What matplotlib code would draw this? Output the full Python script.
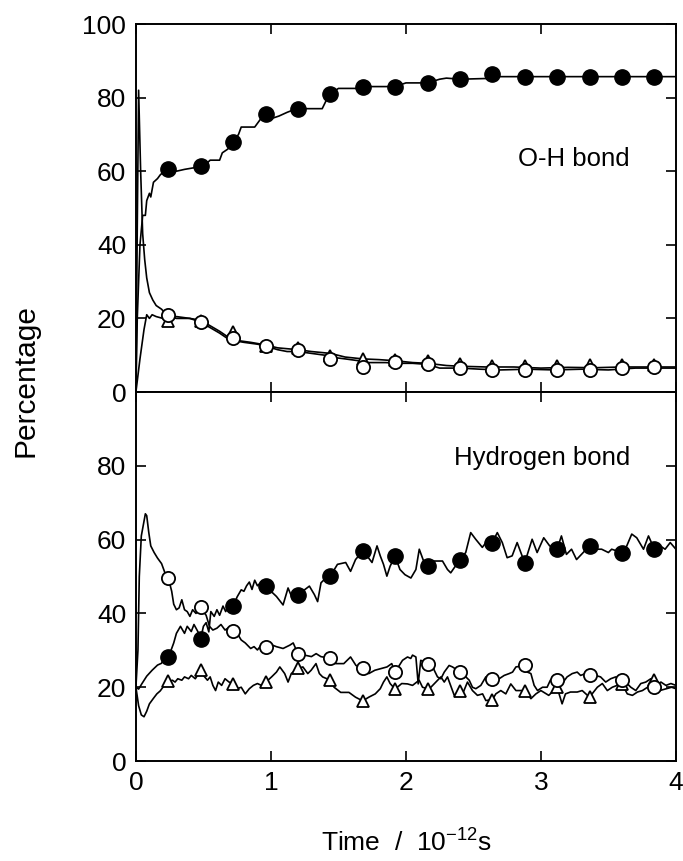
import matplotlib
matplotlib.use('Agg')
import matplotlib.pyplot as plt

plt.rcParams['font.family'] = ['Liberation Sans', 'DejaVu Sans']

# marker times (ps)
t_mark = [0.24, 0.48, 0.72, 0.96, 1.20, 1.44, 1.68, 1.92, 2.16, 2.40, 2.64, 2.88, 3.12, 3.36, 3.60, 3.84]

# ---- O-H bond panel: markers
oh_filled = [60.5, 61.5, 68, 75.5, 77, 81, 83, 83, 84, 85, 86.4, 85.7, 85.7, 85.7, 85.7, 85.7]
oh_open = [20.9, 18.9, 14.6, 12.6, 11.3, 9.0, 6.8, 8.1, 7.7, 6.5, 6.1, 6.1, 6.1, 5.9, 6.5, 6.8]
oh_tri = [19.4, 19.4, 16.2, 12.6, 11.9, 9.7, 9.0, 8.8, 8.3, 7.7, 7.2, 7.2, 7.2, 7.4, 7.4, 7.4]

# ---- O-H bond panel: traces
oh_filled_line_t = [0, 0.01, 0.03, 0.05, 0.07, 0.08, 0.10, 0.11, 0.13, 0.16, 0.18, 0.21, 0.24, 0.27, 0.30,
                    0.36, 0.44, 0.48, 0.52, 0.55, 0.62, 0.64, 0.68, 0.72, 0.76, 0.78, 0.88, 0.92, 0.96,
                    1.02, 1.06, 1.12, 1.19, 1.38, 1.42, 1.44, 1.50, 1.65, 1.68, 1.92, 2.00, 2.16, 2.25,
                    2.30, 2.40, 2.60, 2.62, 2.70, 4.0]
oh_filled_line_v = [0, 20, 40, 48, 48, 52, 54, 53, 57, 58, 59, 60, 60.5, 61, 60, 60.5, 61, 61.5, 62, 63,
                    63, 65, 66, 68, 70, 72, 72, 74, 75.5, 74.5, 75, 76, 77, 77, 80, 81, 82.5, 82.5, 83,
                    83, 84, 84, 85, 85.3, 85, 85.2, 86, 85.7, 85.7]

oh_open_line_t = [0, 0.01, 0.02, 0.035, 0.05, 0.065, 0.08, 0.10, 0.125, 0.15, 0.19, 0.24, 0.30, 0.40,
                  0.48, 0.55, 0.62, 0.68, 0.72, 0.80, 0.90, 0.96, 1.05, 1.12, 1.20, 1.30, 1.40, 1.44,
                  1.55, 1.65, 1.72, 1.85, 1.95, 2.05, 2.16, 2.25, 2.40, 2.55, 2.70, 2.90, 3.10, 3.30,
                  3.50, 3.70, 4.0]
oh_open_line_v = [0, 45, 82, 60, 43, 36, 31, 27, 25, 23.5, 22.5, 20.5, 20, 20, 19, 17.5, 16, 14.5, 14,
                  13.5, 13, 12.5, 11.5, 11, 11, 10.5, 10, 9.5, 9, 8.5, 8, 8, 7.8, 7.8, 7.5, 6.5, 6.5,
                  6.2, 6.0, 6.2, 6.0, 6.2, 6.0, 6.5, 6.5]

oh_tri_line_t = [0, 0.03, 0.06, 0.08, 0.10, 0.12, 0.15, 0.20, 0.24, 0.30, 0.40, 0.48, 0.55, 0.62, 0.68,
                 0.75, 0.85, 0.96, 1.05, 1.20, 1.30, 1.44, 1.55, 1.68, 1.80, 1.92, 2.05, 2.16, 2.30,
                 2.40, 2.60, 2.80, 3.0, 3.2, 3.4, 3.6, 4.0]
oh_tri_line_v = [0, 9, 17, 21, 20, 21, 20.5, 20, 19.8, 20.5, 20, 19.5, 18, 16.5, 15, 14, 13.5, 12.8, 12,
                 11.5, 11, 10.5, 9.5, 9.0, 8.8, 8.5, 8.0, 7.8, 7.2, 7.0, 6.8, 6.8, 6.5, 6.7, 6.6, 6.8,
                 6.8]

# ---- Hydrogen bond panel: markers
hb_filled = [28.2, 33.2, 41.9, 47.4, 45.1, 50.1, 56.9, 55.5, 52.8, 54.6, 59.2, 53.7, 57.4, 58.3, 56.5, 57.4]
hb_open = [49.6, 41.8, 35.3, 31.0, 29.1, 27.8, 25.1, 24.1, 26.4, 24.2, 22.3, 25.9, 21.9, 23.2, 21.9, 20.0]
hb_tri = [21.8, 24.6, 21.0, 21.3, 25.1, 21.9, 16.3, 19.5, 19.6, 19.1, 16.6, 19.1, 20.0, 17.3, 21.0, 21.9]

# ---- Hydrogen bond panel: traces
hb_filled_line_t = [0, 0.02, 0.045, 0.08, 0.12, 0.16, 0.19, 0.21, 0.24, 0.26, 0.28, 0.30, 0.33, 0.36,
                    0.38, 0.41, 0.43, 0.46, 0.48, 0.50, 0.52, 0.54, 0.555, 0.58, 0.60, 0.62, 0.645,
                    0.665, 0.69, 0.72, 0.75, 0.78, 0.80, 0.82, 0.84, 0.86, 0.88, 0.90, 0.93, 0.96,
                    1.041, 1.09, 1.127, 1.163, 1.20, 1.249, 1.285, 1.322, 1.346, 1.371, 1.407, 1.44,
                    1.493, 1.554, 1.59, 1.627, 1.68, 1.712, 1.749, 1.786, 1.81, 1.834, 1.859, 1.883,
                    1.92, 1.956, 1.993, 2.037, 2.074, 2.099, 2.135, 2.16, 2.209, 2.271, 2.308, 2.332,
                    2.40, 2.443, 2.48, 2.517, 2.566, 2.603, 2.64, 2.677, 2.714, 2.75, 2.787, 2.824,
                    2.88, 2.935, 2.972, 3.021, 3.065, 3.12, 3.152, 3.189, 3.227, 3.264, 3.36, 3.40,
                    3.45, 3.50, 3.524, 3.60, 3.636, 3.673, 3.71, 3.76, 3.797, 3.84, 3.884, 3.92,
                    3.958, 4.0]
hb_filled_line_v = [20, 19.5, 21, 23, 24.6, 26, 26.5, 28, 28.2, 30, 32, 34.6, 36.5, 34.6, 36.5, 35.1,
                    37, 35, 33.2, 36.5, 37.5, 35.0, 40.5, 39.2, 41.0, 39.5, 42.0, 40.5, 42.5, 41.9,
                    44.5, 46.4, 46.0, 47.5, 48.5, 46.5, 49.0, 47.5, 48.5, 47.4, 44.6, 42.3, 46.9, 43.7,
                    45.1, 46.4, 47.4, 45.1, 43.2, 48.3, 49.6, 50.1, 53.3, 53.8, 51.4, 54.6, 56.9, 55.6,
                    53.8, 58.3, 55.6, 53.3, 50.1, 52.8, 55.5, 51.9, 50.5, 49.6, 51.9, 57.4, 53.8, 52.8,
                    54.2, 54.2, 51.9, 51.0, 54.6, 56.5, 61.9, 60.1, 57.9, 59.7, 59.2, 61.9, 59.2, 55.1,
                    55.6, 59.2, 53.7, 60.1, 56.5, 60.5, 58.3, 57.4, 61.0, 56.0, 57.4, 54.6, 58.3, 57.4,
                    57.4, 56.5, 57.4, 56.5, 58.3, 61.5, 60.5, 57.4, 61.0, 57.4, 58.3, 57.4, 59.2, 57.4]

hb_open_line_t = [0, 0.015, 0.025, 0.04, 0.055, 0.07, 0.08, 0.095, 0.11, 0.135, 0.16, 0.19, 0.215,
                  0.24, 0.265, 0.28, 0.30, 0.32, 0.34, 0.36, 0.38, 0.40, 0.42, 0.445, 0.48, 0.50, 0.52,
                  0.545, 0.57, 0.60, 0.63, 0.66, 0.69, 0.72, 0.75, 0.78, 0.81, 0.85, 0.875, 0.90,
                  0.93, 0.96, 1.005, 1.04, 1.09, 1.14, 1.165, 1.20, 1.25, 1.30, 1.335, 1.37, 1.44,
                  1.48, 1.54, 1.59, 1.63, 1.68, 1.725, 1.77, 1.82, 1.86, 1.895, 1.92, 1.975, 2.012,
                  2.036, 2.049, 2.074, 2.091, 2.11, 2.16, 2.185, 2.21, 2.234, 2.259, 2.284, 2.32,
                  2.345, 2.40, 2.42, 2.444, 2.469, 2.493, 2.518, 2.555, 2.592, 2.64, 2.666, 2.691,
                  2.728, 2.765, 2.79, 2.815, 2.88, 2.90, 2.926, 2.95, 2.975, 3.012, 3.046, 3.07,
                  3.12, 3.157, 3.194, 3.232, 3.269, 3.294, 3.331, 3.36, 3.405, 3.442, 3.48, 3.517,
                  3.554, 3.60, 3.628, 3.666, 3.703, 3.74, 3.777, 3.814, 3.84, 3.889, 3.926, 3.963,
                  4.0]
hb_open_line_v = [20, 30, 50, 61, 64, 67, 66.5, 62, 58.3, 56.5, 55, 53.5, 51, 49.6, 46, 42.5, 41,
                  41.5, 43.7, 41.0, 40.5, 39.2, 41.0, 40, 41.8, 40.5, 39.5, 36.5, 35.5, 36.0, 37.0,
                  35.5, 36.2, 35.3, 34.6, 32.8, 32.0, 30.5, 31.0, 30.1, 31.5, 31.0, 31.5, 31.0, 30.5,
                  31.4, 32.0, 29.1, 28.7, 28.3, 29.1, 28.3, 27.8, 26.4, 26.4, 28.2, 25.9, 25.1, 23.7,
                  24.6, 25.1, 25.5, 26.4, 24.1, 27.3, 28.2, 27.8, 28.7, 28.2, 20.9, 27.3, 26.4, 26.9,
                  24.6, 22.8, 22.3, 24.1, 25.9, 25.5, 24.2, 23.7, 22.8, 21.9, 20.0, 19.6, 20.5, 22.8,
                  22.3, 22.8, 22.3, 23.2, 23.7, 24.1, 25.5, 25.9, 24.1, 23.7, 20.5, 19.1, 20.0, 20.0,
                  21.9, 21.9, 21.0, 22.8, 23.7, 24.1, 23.2, 23.7, 23.2, 23.2, 22.8, 21.4, 22.3, 22.8,
                  21.9, 21.4, 20.0, 19.1, 21.0, 21.4, 22.3, 20.0, 21.4, 20.5, 21.0, 20.5]

hb_tri_line_t = [0, 0.02, 0.04, 0.06, 0.08, 0.10, 0.13, 0.155, 0.18, 0.20, 0.215, 0.24, 0.27, 0.29,
                 0.31, 0.34, 0.36, 0.39, 0.41, 0.44, 0.48, 0.50, 0.53, 0.55, 0.57, 0.59, 0.61, 0.635,
                 0.66, 0.69, 0.72, 0.75, 0.78, 0.81, 0.84, 0.87, 0.90, 0.93, 0.96, 1.005, 1.041,
                 1.066, 1.102, 1.127, 1.151, 1.20, 1.237, 1.273, 1.298, 1.334, 1.359, 1.383, 1.44,
                 1.468, 1.517, 1.578, 1.627, 1.68, 1.725, 1.773, 1.81, 1.834, 1.859, 1.883, 1.92,
                 1.969, 2.012, 2.049, 2.098, 2.123, 2.16, 2.185, 2.222, 2.259, 2.284, 2.308, 2.358,
                 2.40, 2.42, 2.456, 2.493, 2.53, 2.568, 2.592, 2.64, 2.666, 2.703, 2.74, 2.777,
                 2.815, 2.88, 2.90, 2.926, 2.963, 3.0, 3.058, 3.095, 3.12, 3.157, 3.182, 3.219,
                 3.269, 3.306, 3.36, 3.418, 3.455, 3.492, 3.529, 3.60, 3.64, 3.678, 3.715, 3.752,
                 3.79, 3.84, 3.88, 3.93, 3.968, 4.0]
hb_tri_line_v = [20, 15, 12.5, 12, 13.5, 15.5, 17, 18.2, 19, 20, 21, 21.4, 21.9, 21.4, 22.3, 21.9, 22.8,
                 22.3, 23.2, 22.3, 24.6, 23.2, 21.9, 22.8, 20.5, 19.1, 21.4, 20.5, 22.3, 21.4, 21.0,
                 19.6, 20.0, 18.2, 19.6, 20.5, 21.0, 20.5, 21.3, 22.8, 24.1, 25.5, 23.7, 21.4, 23.7,
                 25.1, 25.5, 23.7, 24.6, 26.4, 23.7, 22.8, 21.9, 20.0, 18.6, 18.6, 17.3, 16.3, 17.3,
                 18.2, 19.6, 21.4, 22.8, 21.0, 19.5, 21.0, 20.9, 20.5, 21.9, 20.0, 19.6, 20.0, 21.4,
                 22.8, 21.4, 22.8, 17.8, 19.1, 18.2, 21.4, 19.1, 17.8, 18.2, 16.4, 16.6, 18.2, 19.1,
                 18.2, 20.9, 19.1, 19.1, 18.2, 16.9, 18.2, 19.1, 17.8, 19.1, 20.0, 15.5, 18.2, 18.7,
                 18.7, 19.1, 17.3, 20.0, 21.0, 19.1, 20.0, 21.0, 18.2, 17.8, 18.7, 19.1, 20.0, 21.9,
                 19.1, 19.6, 20.0, 19.6]

fig = plt.figure(figsize=(6.83, 8.61), dpi=100)
ax1 = fig.add_axes([0.199, 0.5447, 0.7906, 0.4274])
ax2 = fig.add_axes([0.199, 0.1161, 0.7906, 0.4286])

lw = 1.2
def draw_marks(ax, filled, opened, tri):
    ax.plot(t_mark, tri, linestyle='none', marker='^', ms=9, mfc='white', mec='black', mew=1.3)
    ax.plot(t_mark, opened, linestyle='none', marker='o', ms=9.5, mfc='white', mec='black', mew=1.3)
    ax.plot(t_mark, filled, linestyle='none', marker='o', ms=11, mfc='black', mec='black')

ax1.plot(oh_filled_line_t, oh_filled_line_v, color='black', lw=lw)
ax1.plot(oh_open_line_t, oh_open_line_v, color='black', lw=lw)
ax1.plot(oh_tri_line_t, oh_tri_line_v, color='black', lw=lw)
draw_marks(ax1, oh_filled, oh_open, oh_tri)

ax2.plot(hb_filled_line_t, hb_filled_line_v, color='black', lw=lw)
ax2.plot(hb_open_line_t, hb_open_line_v, color='black', lw=lw)
ax2.plot(hb_tri_line_t, hb_tri_line_v, color='black', lw=lw)
draw_marks(ax2, hb_filled, hb_open, hb_tri)

for ax in (ax1, ax2):
    ax.set_xlim(0, 4)
    ax.set_ylim(0, 100)
    ax.set_xticks([0, 1, 2, 3, 4])
    ax.set_yticks([0, 20, 40, 60, 80, 100])
    ax.tick_params(direction='in', length=7, width=1.2, top=True, right=True,
                   labelsize=19, pad=7)
    for s in ax.spines.values():
        s.set_linewidth(1.4)

ax1.tick_params(labelbottom=False)
ax2.set_yticklabels(['0', '20', '40', '60', '80', ''])

ax1.text(3.66, 63.4, 'O-H bond', ha='right', va='center', fontsize=18.5)
ax2.text(3.66, 82, 'Hydrogen bond', ha='right', va='center', fontsize=18.5)

fig.text(0.037, 0.5575, 'Percentage', rotation=90, ha='center', va='center', fontsize=21.5)
fig.text(0.596, 0.006, r'Time  /  10$^{\mathregular{-12}}$s', ha='center', va='bottom', fontsize=19)

fig.savefig('out.png', dpi=100)
